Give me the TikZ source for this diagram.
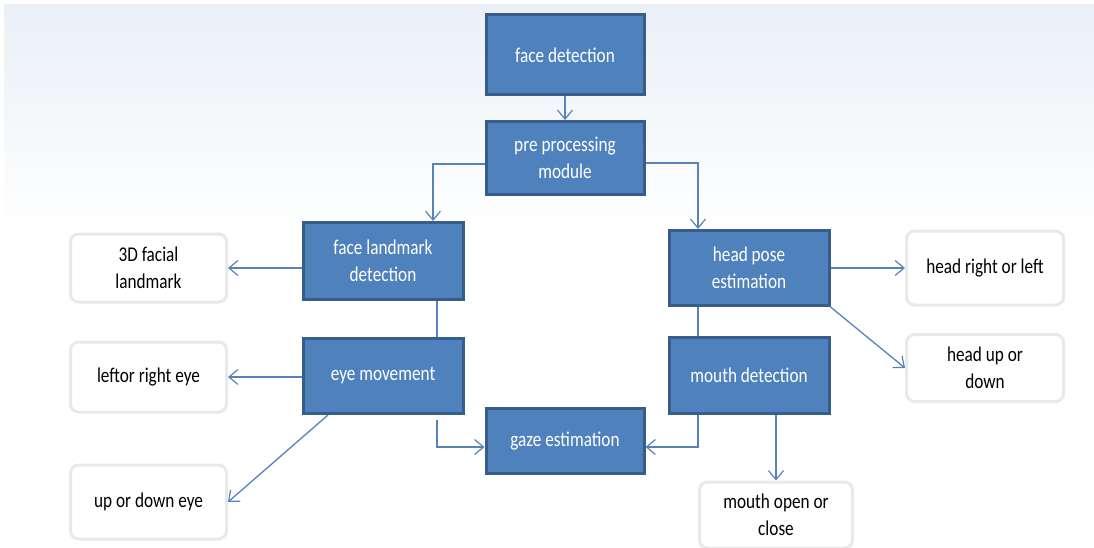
\documentclass[tikz,border=0pt]{standalone}
\usepackage{fontspec}
\setmainfont{Carlito}
\newfontfamily\tallcal[FakeStretch=0.82]{Carlito}
\usetikzlibrary{arrows.meta,positioning}
\definecolor{boxblue}{HTML}{4F81BD}
\definecolor{boxedge}{HTML}{385D8A}
\definecolor{linkblue}{HTML}{5782BA}
\definecolor{softgrey}{HTML}{E9E9E9}
\definecolor{bgtop}{HTML}{EAF0F6}
\tikzset{
  bluebox/.style={draw=boxedge, line width=3pt, fill=boxblue, text=white,
    align=center, inner sep=2pt, font=\tallcal\fontsize{21}{27}\selectfont},
  whitebox/.style={draw=softgrey, line width=3pt, fill=white, rounded corners=8pt,
    text=black, align=center, inner sep=2pt, font=\tallcal\fontsize{21}{27}\selectfont},
  link/.style={draw=linkblue, line width=1.3pt},
  arr/.style={link, -{Straight Barb[length=9pt,width=15pt,line width=1.2pt]}}
}
\begin{document}
\begin{tikzpicture}[x=1pt,y=-1pt]
  \useasboundingbox (0,0) rectangle (1094,548);
  \fill[white] (0,0) rectangle (1094,548);
  \shade[top color=bgtop, bottom color=white] (4,5) rectangle (1094,235);

  % blue process boxes
  \node[bluebox, minimum width=158pt, minimum height=80pt] (fd) at (565,55) {face detection};
  \node[bluebox, minimum width=158pt, minimum height=73pt] (pp) at (565,158) {pre processing\\module};
  \node[bluebox, minimum width=160pt, minimum height=77pt] (fl) at (383,261) {face landmark\\detection};
  \node[bluebox, minimum width=160pt, minimum height=75pt] (em) at (383,376) {eye movement};
  \node[bluebox, minimum width=158pt, minimum height=65pt] (gz) at (565,441) {gaze estimation};
  \node[bluebox, minimum width=160pt, minimum height=75pt] (hp) at (749,268) {head pose\\estimation};
  \node[bluebox, minimum width=160pt, minimum height=76pt] (md) at (749,375) {mouth detection};

  % white result boxes
  \node[whitebox, minimum width=156pt, minimum height=68pt] (tdf) at (148.5,268) {3D facial\\landmark};
  \node[whitebox, minimum width=156pt, minimum height=70pt] (lre) at (148.5,377) {leftor right eye};
  \node[whitebox, minimum width=156pt, minimum height=74pt] (ude) at (148.5,502) {up or down eye};
  \node[whitebox, minimum width=157pt, minimum height=74pt] (hrl) at (985,268) {head right or left};
  \node[whitebox, minimum width=157pt, minimum height=67pt] (hud) at (985,368) {head up or\\down};
  \node[whitebox, minimum width=153pt, minimum height=66pt] (moc) at (776,515) {mouth open or\\close};

  % connectors
  \draw[arr] (fd.south) -- (pp.north);
  \draw[arr] ([yshift=-6pt]pp.west) -| ([xshift=50pt]fl.north);
  \draw[arr] ([yshift=-5pt]pp.east) -| ([xshift=-51pt]hp.north);
  \draw[arr] ([yshift=-7pt]fl.west) -- (tdf.east);
  \draw[link] ([xshift=54pt]fl.south) -- ([xshift=54pt]em.north);
  \draw[arr] ([yshift=-1pt]em.west) -- (lre.east);
  \draw[arr] ([xshift=-55pt]em.south) -- (ude.east);
  \draw[arr] ([xshift=54pt,yshift=-5pt]em.south) |- ([yshift=-6pt]gz.west);
  \draw[arr] (hp.east) -- (hrl.west);
  \draw[arr] (hp.south east) -- (hud.west);
  \draw[link] ([xshift=-51pt]hp.south) -- ([xshift=-51pt]md.north);
  \draw[arr] ([xshift=-51pt]md.south) |- ([yshift=-6pt]gz.east);
  \draw[arr] ([xshift=27pt]md.south) -- (moc.north);
\end{tikzpicture}
\end{document}
